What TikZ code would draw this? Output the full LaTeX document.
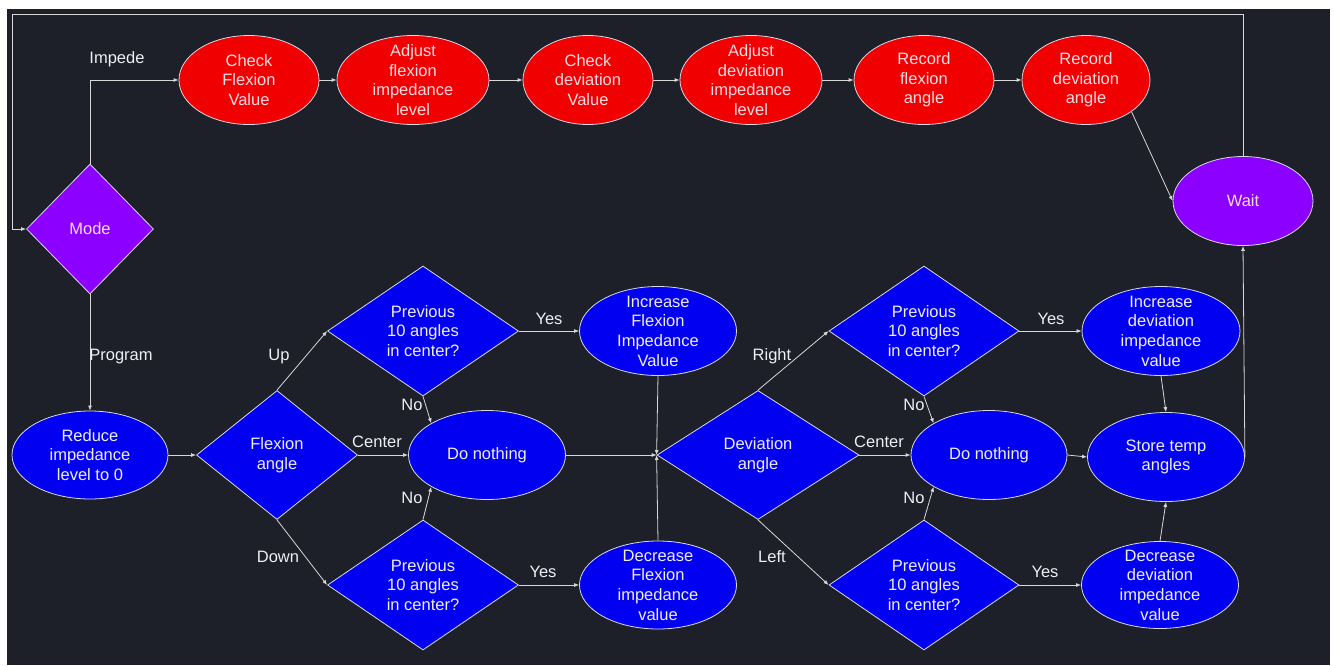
\documentclass[tikz,border=0pt]{standalone}
\usepackage{fontspec}
\setmainfont{Liberation Sans}
\usetikzlibrary{shapes.geometric,arrows.meta}
\definecolor{bg}{RGB}{29,32,41}
\definecolor{bluec}{RGB}{2,0,240}
\definecolor{redc}{RGB}{240,0,0}
\definecolor{purc}{RGB}{140,0,255}
\definecolor{edgec}{RGB}{215,215,230}
\definecolor{linec}{RGB}{215,215,215}
\definecolor{txt}{RGB}{238,238,245}
\definecolor{pinkt}{RGB}{250,220,225}
\begin{document}
\begin{tikzpicture}[x=1pt,y=-1pt,
  tfont/.style={font=\fontsize{16.5}{19.7}\selectfont},
  ell/.style={ellipse, draw=edgec, line width=0.8pt, inner sep=-12pt, align=center, text=txt, tfont},
  redell/.style={ell, fill=redc, text=pinkt, minimum height=89pt},
  blueell/.style={ell, fill=bluec, minimum height=89pt},
  dia/.style={diamond, draw=edgec, line width=0.8pt, fill=bluec, inner sep=0pt, aspect=1.47, align=center, text=txt, tfont},
  arr/.style={draw=linec, line width=0.8pt, -{Latex[length=5pt,width=4pt]}},
  ln/.style={draw=linec, line width=0.8pt},
  lab/.style={text=txt, tfont, inner sep=0pt}]
\useasboundingbox (0,0) rectangle (1334,665);
\fill[white] (0,0) rectangle (1334,665);
\fill[bg] (7,9) rectangle (1330,665);

% top row
\node[dia, fill=purc, text=pinkt, minimum width=127pt, minimum height=130pt] (mode) at (90,229) {Mode};
\node[redell, minimum width=140pt] (cf) at (249,80) {Check\\Flexion\\Value};
\node[redell, minimum width=152pt] (af) at (413,80) {Adjust\\flexion\\impedance\\level};
\node[redell, minimum width=130pt] (cd) at (588,80) {Check\\deviation\\Value};
\node[redell, minimum width=142pt] (ad) at (751,80) {Adjust\\deviation\\impedance\\level};
\node[redell, minimum width=140pt] (rf) at (924,80) {Record\\flexion\\angle};
\node[redell, minimum width=128pt] (rd) at (1086,80) {Record\\deviation\\angle};
\node[ell, fill=purc, text=pinkt, minimum width=140pt, minimum height=89pt] (wait) at (1243,201) {Wait};

% bottom
\node[blueell, minimum width=156pt, minimum height=88pt] (reduce) at (90,455) {Reduce\\impedance\\level to 0};
\node[dia, minimum width=161pt, minimum height=129pt] (flex) at (277,455) {Flexion\\angle};
\node[dia, minimum width=191pt, minimum height=130pt] (p1) at (423,331) {Previous\\10 angles\\in center?};
\node[dia, minimum width=191pt, minimum height=130pt] (p2) at (423,585) {Previous\\10 angles\\in center?};
\node[blueell, minimum width=157pt] (incf) at (658,331) {Increase\\Flexion\\Impedance\\Value};
\node[blueell, minimum width=157pt] (dn1) at (487,455) {Do nothing};
\node[blueell, minimum width=157pt, minimum height=88pt] (decf) at (658,585) {Decrease\\Flexion\\impedance\\value};
\node[dia, minimum width=202pt, minimum height=129pt] (dev) at (758,455) {Deviation\\angle};
\node[dia, minimum width=190pt, minimum height=130pt] (p3) at (924,331) {Previous\\10 angles\\in center?};
\node[dia, minimum width=190pt, minimum height=130pt] (p4) at (924,585) {Previous\\10 angles\\in center?};
\node[blueell, minimum width=156pt] (dn2) at (989,455) {Do nothing};
\node[blueell, minimum width=158pt] (incd) at (1161,331) {Increase\\deviation\\impedance\\value};
\node[blueell, minimum width=157pt] (store) at (1166,457) {Store temp\\angles};
\node[blueell, minimum width=157pt, minimum height=87pt] (decd) at (1160,585) {Decrease\\deviation\\impedance\\value};

% loop corner
\coordinate (lt) at (12,14);

% connectors top
\draw[arr] (wait.north) |- (lt) |- (mode.west);
\draw[arr] (mode.north) |- (cf.west);
\draw[arr] (cf) -- (af);
\draw[arr] (af) -- (cd);
\draw[arr] (cd) -- (ad);
\draw[arr] (ad) -- (rf);
\draw[arr] (rf) -- (rd);
\draw[arr] (rd.south east) -- (wait.west);

% connectors bottom
\draw[arr] (mode.south) -- (reduce.north);
\draw[arr] (reduce.east) -- (flex.west);
\draw[arr] (flex.north) -- (p1.west);
\draw[arr] (flex.east) -- (dn1.west);
\draw[arr] (flex.south) -- (p2.west);
\draw[arr] (p1.east) -- (incf.west);
\draw[arr] (p2.east) -- (decf.west);
\draw[arr] (p1.south) -- (dn1.north west);
\draw[arr] (p2.north) -- (dn1.south west);
\draw[arr] (dn1.east) -- (dev.west);
\draw[arr] (incf.south) -- (dev.west);
\draw[arr] (decf.north) -- (dev.west);
\draw[arr] (dev.north) -- (p3.west);
\draw[arr] (dev.east) -- (dn2.west);
\draw[arr] (dev.south) -- (p4.west);
\draw[arr] (p3.east) -- (incd.west);
\draw[arr] (p4.east) -- (decd.west);
\draw[arr] (p3.south) -- (dn2.north west);
\draw[arr] (p4.north) -- (dn2.south west);
\draw[arr] (dn2.east) -- (store.west);
\draw[arr] (incd.south) -- (store.north);
\draw[arr] (decd.north) -- (store.south);
\draw[arr] (store.east) -- (wait.south);

% labels
\node[lab] (l1) at (117,59) {Impede};
\node[lab] (l2) at (121,357) {Program};
\node[lab] (l3) at (279,357) {Up};
\node[lab] (l4) at (549,319) {Yes};
\node[lab] (l5) at (377,442) {Center};
\node[lab] (l6) at (412,405) {No};
\node[lab] (l7) at (412,498) {No};
\node[lab] (l8) at (278,557) {Down};
\node[lab] (l9) at (543,572) {Yes};
\node[lab] (l10) at (772,356) {Right};
\node[lab] (l11) at (1051,319) {Yes};
\node[lab] (l12) at (914,405) {No};
\node[lab] (l13) at (879,442) {Center};
\node[lab] (l14) at (772,557) {Left};
\node[lab] (l15) at (914,498) {No};
\node[lab] (l16) at (1045,572) {Yes};
\end{tikzpicture}
\end{document}
